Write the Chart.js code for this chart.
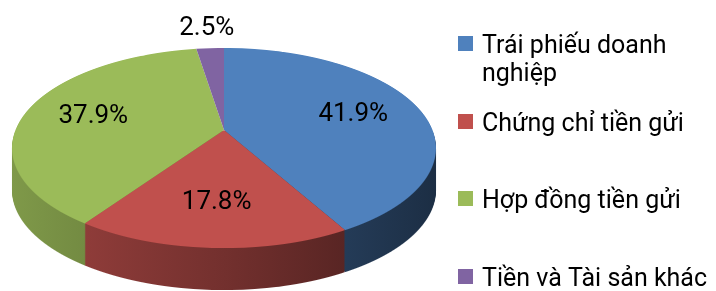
<!DOCTYPE html>
<html><head><meta charset="utf-8">
<script src="https://cdn.jsdelivr.net/npm/chart.js@4/dist/chart.umd.min.js"></script>
<style>html,body{margin:0;padding:0;background:#fff;}canvas{display:block;}</style>
</head><body>
<canvas id="c" width="716" height="291"></canvas>
<script>
// ---- data ----
const categories = ['Trái phiếu doanh nghiệp', 'Chứng chỉ tiền gửi', 'Hợp đồng tiền gửi', 'Tiền và Tài sản khác'];
const shares = [41.9, 17.8, 37.9, 2.5];
const sliceColors = ['#4f81bd', '#c0504d', '#9bbb59', '#8064a2'];

// ---- 3D perspective look (screen ellipse of the pie top) ----
const P = { cx: 224, ay: 130, a: 208.5, b: 96.8, c: 0.18, depth: 42 };
const FONT = 'Roboto, "Noto Sans", sans-serif';

function vOf(Y) { const t = Y - P.ay; return t / (P.b + P.c * t); }
function project(u, v) { const w = 1 - P.c * v; return { x: P.cx + P.a * u / w, y: P.ay + P.b * v / w }; }
function bandTransform(ctx, Y0, Y1, ax, ay, R, dy) {
  const v0 = vOf(Y0), v1 = vOf(Y1), vm = (v0 + v1) / 2, wm = 1 - P.c * vm;
  const sx = P.a / (wm * R), sy = (Y1 - Y0) / ((v1 - v0) * R);
  ctx.transform(sx, 0, 0, sy, P.cx - sx * ax, Y0 + dy - sy * (ay + v0 * R));
}
function shade(hex, f) {
  const n = parseInt(hex.slice(1), 16);
  const r = Math.round(((n >> 16) & 255) * f), g = Math.round(((n >> 8) & 255) * f), b = Math.round((n & 255) * f);
  return `rgb(${r},${g},${b})`;
}

const pie3d = {
  id: 'pie3d',
  beforeDatasetsDraw(chart) {
    const ctx = chart.ctx, W = chart.width;
    const arcs = chart.getDatasetMeta(0).data;
    const g0 = arcs[0].getProps(['x', 'y', 'outerRadius'], true);
    const ax = g0.x, ay = g0.y, R = g0.outerRadius;
    const yTop = Math.floor(project(0, -1).y) - 1;
    const yBot = Math.ceil(project(0, 1).y) + 1;
    const half = P.a * 1.02;
    const grads = arcs.map((a, i) => {
      const gr = ctx.createLinearGradient(P.cx - half, 0, P.cx + half, 0);
      gr.addColorStop(0, shade(sliceColors[i], 0.82));
      gr.addColorStop(0.5, shade(sliceColors[i], 0.6));
      gr.addColorStop(1, shade(sliceColors[i], 0.36));
      return gr;
    });
    const geo = arcs.map(a => a.getProps(['startAngle', 'endAngle'], true));
    // side walls: stacked copies of the front half, shifted down
    for (let d = P.depth; d >= 1; d--) {
      for (let Y0 = Math.floor(P.ay); Y0 < yBot; Y0++) {
        ctx.save();
        ctx.beginPath(); ctx.rect(0, Y0 + d, W, 1); ctx.clip();
        for (let i = 0; i < arcs.length; i++) {
          ctx.save();
          bandTransform(ctx, Y0, Y0 + 1, ax, ay, R, d);
          ctx.beginPath();
          ctx.moveTo(ax, ay);
          ctx.arc(ax, ay, R, geo[i].startAngle, geo[i].endAngle);
          ctx.closePath();
          ctx.restore();
          ctx.fillStyle = grads[i];
          ctx.fill();
        }
        ctx.restore();
      }
    }
    // top face drawn by the arc elements, band by band
    for (let Y0 = yTop; Y0 < yBot; Y0++) {
      ctx.save();
      ctx.beginPath(); ctx.rect(0, Y0, W, 1); ctx.clip();
      bandTransform(ctx, Y0, Y0 + 1, ax, ay, R, 0);
      arcs.forEach(a => a.draw(ctx));
      ctx.restore();
    }
    return false;
  },
  afterDraw(chart) {
    const ctx = chart.ctx;
    const arcs = chart.getDatasetMeta(0).data;
    const vals = chart.data.datasets[0].data;
    ctx.save();
    // data labels
    ctx.fillStyle = '#000';
    ctx.font = '26px ' + FONT;
    ctx.textAlign = 'center';
    ctx.textBaseline = 'middle';
    arcs.forEach((a, i) => {
      const g = a.getProps(['startAngle', 'endAngle'], true);
      const m = (g.startAngle + g.endAngle) / 2;
      const f = vals[i] < 5 ? 1.3 : 0.66;
      const p = project(Math.cos(m) * f, Math.sin(m) * f);
      ctx.fillText(vals[i].toFixed(1) + '%', p.x, p.y);
    });
    // legend
    ctx.font = '25px ' + FONT;
    const boxX = 458, boxS = 15, textX = 482, firstBase = 53, pitch = 77.7, lineH = 28;
    const maxW = chart.width - textX;
    ctx.textAlign = 'left';
    ctx.textBaseline = 'alphabetic';
    categories.forEach((name, i) => {
      const base = Math.round(firstBase + i * pitch);
      ctx.fillStyle = sliceColors[i];
      ctx.fillRect(boxX, base - 17, boxS, boxS);
      ctx.fillStyle = '#000';
      const words = name.split(' ');
      const lines = [];
      let cur = '';
      words.forEach(w => {
        const t = cur ? cur + ' ' + w : w;
        if (ctx.measureText(t).width > maxW && cur) { lines.push(cur); cur = w; } else cur = t;
      });
      lines.push(cur);
      lines.forEach((ln, k) => ctx.fillText(ln, textX, base + k * lineH));
    });
    ctx.restore();
  }
};

new Chart(document.getElementById('c'), {
  type: 'pie',
  data: {
    labels: categories,
    datasets: [{ data: shares, backgroundColor: sliceColors, borderWidth: 0 }]
  },
  options: {
    responsive: false,
    animation: false,
    events: [],
    layout: { padding: { left: 0, right: 268, top: 45, bottom: 46 } },
    plugins: { legend: { display: false }, tooltip: { enabled: false } }
  },
  plugins: [pie3d]
});
</script>
</body></html>
